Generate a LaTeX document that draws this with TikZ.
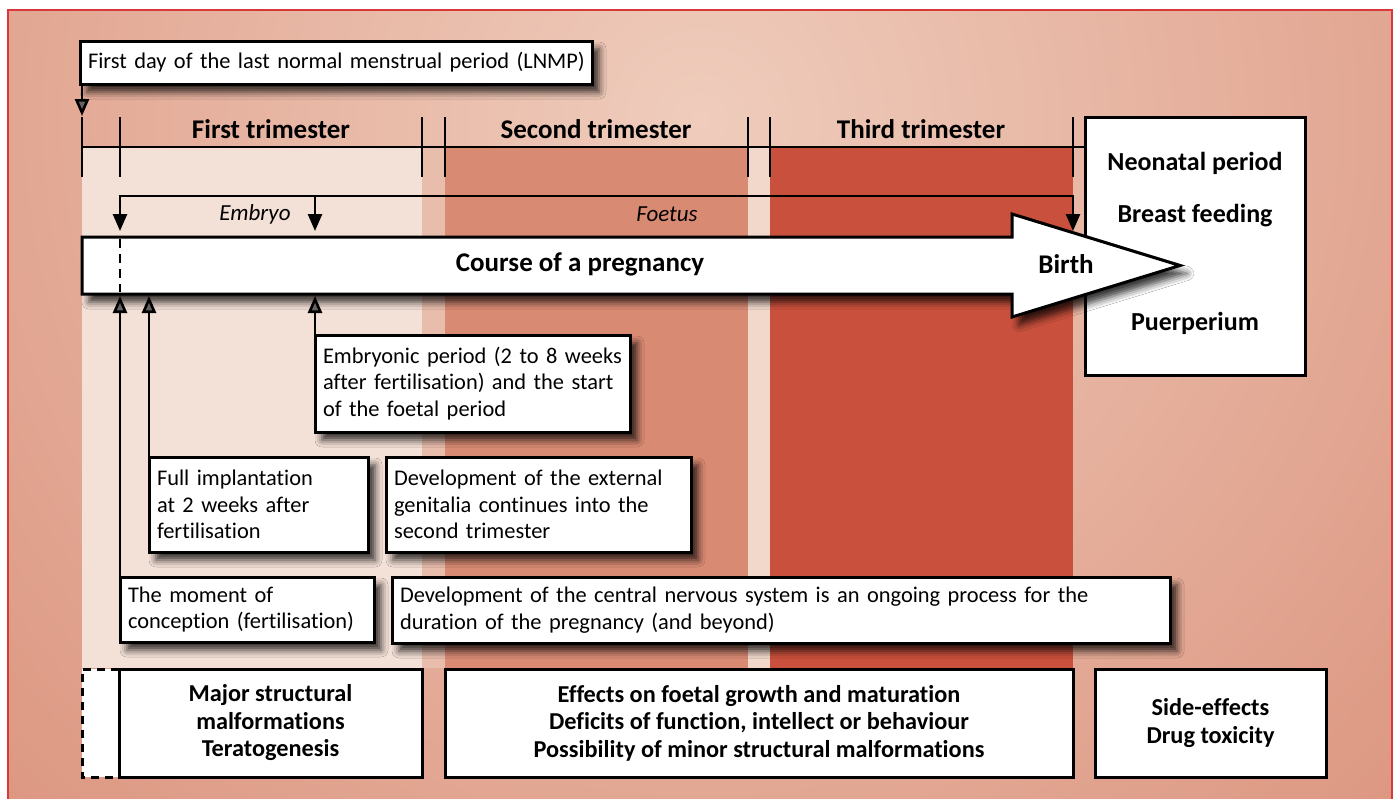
\documentclass[tikz,border=0pt]{standalone}
\usepackage{fontspec}
\setmainfont{Carlito}[Ligatures=NoCommon]
\usetikzlibrary{arrows.meta,shadows.blur}
\definecolor{bgin}{HTML}{EFCCBC}
\definecolor{bgout}{HTML}{DC9680}
\definecolor{framered}{HTML}{D8383A}
\definecolor{bandA}{HTML}{F3E0D6}
\definecolor{gapA}{HTML}{E8BDAC}
\definecolor{bandB}{HTML}{D98A73}
\definecolor{gapB}{HTML}{F1D8CB}
\definecolor{bandC}{HTML}{C9503C}
\newcommand\fsreg{\fontsize{22.4}{26.5}\selectfont}
\newcommand\fsbold{\fontsize{24.3}{27.5}\selectfont\bfseries}
\newcommand\fsneo{\fontsize{26}{28}\selectfont\bfseries}
\newcommand\fsbig{\fontsize{27}{30}\selectfont\bfseries}
\newcommand\fsit{\fontsize{23}{27}\selectfont\itshape}
\begin{document}
\begin{tikzpicture}[x=1pt,y=-1pt,
  tick/.style={line width=2.8pt},
  arr/.style={line width=2.6pt,-{Triangle[length=17pt,width=14pt]}},
  shadowed/.style={blur shadow={shadow xshift=7pt,shadow yshift=-8pt,shadow blur radius=7pt,shadow opacity=78}},
  infobox/.style={draw,line width=3pt,fill=white,anchor=north west,outer sep=0pt,
    align=left,inner xsep=8pt,inner ysep=2pt,font=\fsreg,shadowed},
  plainbox/.style={draw,line width=3pt,fill=white,anchor=north west,outer sep=0pt,
    align=center,inner sep=0pt,font=\fsbold},
  lbl/.style={inner sep=0pt}]
\useasboundingbox (0,0) rectangle (1396,798);
\fill[white] (0,0) rectangle (1396,798);
\begin{scope}
  \clip (8,10) rectangle (1392,810);
  \fill[bgout] (8,10) rectangle (1392,810);
  \shade[inner color=bgin,outer color=bgout] (700,120) circle (1000pt);
\end{scope}
\draw[framered,line width=1.5pt] (8,810) -- (8,10) -- (1392,10) -- (1392,810);
% bands
\fill[bandA] (82,147) rectangle (422,668);
\fill[gapA] (422,147) rectangle (445,668);
\fill[bandB] (445,147) rectangle (748,668);
\fill[gapB] (748,147) rectangle (770,668);
\fill[bandC] (770,147) rectangle (1073,668);
% neonatal box
\node[plainbox,minimum width=220pt,minimum height=258pt] (neo) at (1085,117) {};
\node[lbl,font=\fsneo] (neo1) at (1195,163) {Neonatal period};
\node[lbl,font=\fsneo] (neo2) at (1195,216) {Breast feeding};
\node[lbl,font=\fsneo] (neo3) at (1195,323) {Puerperium};
% ticks and timeline
\foreach \x in {82,120,422,445,748,770,1073}
  \draw[tick] (\x,117) -- (\x,177);
\coordinate (t0) at (82,117);
\draw[tick] (82,147) -- (neo.west |- 0,147);
\node[lbl,font=\fsbig] (tri1) at (271,129) {First trimester};
\node[lbl,font=\fsbig] (tri2) at (596,129) {Second trimester};
\node[lbl,font=\fsbig] (tri3) at (921,129) {Third trimester};
% embryo / foetus bracket
\coordinate (br1) at (120,196);
\coordinate (br3) at (1073,196);
\coordinate (e1) at (120,231);
\coordinate (e2) at (315,231);
\coordinate (e3) at (1073,231);
\draw[line width=2.6pt,{Triangle[length=17pt,width=14pt]}-{Triangle[length=17pt,width=14pt]}] (e1) -- (br1) -- (br3) -- (e3);
\draw[arr] (315,196) -- (e2);
\node[lbl,font=\fsit] (embryo) at (255,214) {Embryo};
\node[lbl,font=\fsit] (foetus) at (667,214) {Foetus};
% main arrow
\node[inner sep=0pt,outer sep=0pt,minimum width=930pt,minimum height=57pt,anchor=north west] (body) at (82,237) {};
\draw[line width=3pt,fill=white,shadowed] (body.north west) -- (body.north east) -- (1012,214) -- (1180,265.5) -- (1012,317) -- (body.south east) -- (body.south west) -- cycle;
\draw[line width=2.6pt,dash pattern=on 9pt off 6pt] (120,239) -- (120,292);
\node[lbl,font=\fsbig] (course) at (580,264) {Course of a pregnancy};
\node[lbl,font=\fsbig] (birth) at (1066,264) {Birth};
% LNMP
\node[infobox,minimum height=43pt,text width=496pt] (lnmp) at (80,41) {\mbox{First day of the last normal menstrual period (LNMP)}};
\draw[arr,shorten >=1pt] ([xshift=2pt]lnmp.south west) -- (t0);
% info boxes
\node[infobox,minimum height=97pt,text width=299pt] (emb) at (315,335)
  {\mbox{Embryonic period (2 to 8 weeks}\\\mbox{after fertilisation) and the start}\\\mbox{of the foetal period}};
\node[infobox,minimum height=95pt,text width=203pt] (impl) at (149,457)
  {\mbox{Full implantation}\\\mbox{at 2 weeks after}\\\mbox{fertilisation}};
\node[infobox,minimum height=95pt,text width=289pt] (gen) at (386,457)
  {\mbox{Development of the external}\\\mbox{genitalia continues into the}\\\mbox{second trimester}};
\node[infobox,minimum height=65pt,text width=238pt] (conc) at (120,577)
  {\mbox{The moment of}\\\mbox{conception (fertilisation)}};
\node[infobox,minimum height=66pt,text width=762pt] (cns) at (392,577)
  {\mbox{Development of the central nervous system is an ongoing process for the}\\\mbox{duration of the pregnancy (and beyond)}};
% connectors up to the arrow
\draw[arr,shorten >=2pt] (conc.north west) -- (conc.north west |- body.south);
\draw[arr,shorten >=2pt] (impl.north west) -- (impl.north west |- body.south);
\draw[arr,shorten >=2pt] (emb.north west) -- (emb.north west |- body.south);
% bottom boxes
\draw[line width=3pt,dash pattern=on 8pt off 6pt,fill=white] (119,669) -- (82,669) -- (82,777) -- (119,777);
\node[plainbox,minimum width=303pt,minimum height=108pt] (b1) at (119,669)
  {Major structural\\malformations\\Teratogenesis};
\node[plainbox,minimum width=628pt,minimum height=108pt] (b2) at (445,669)
  {Effects on foetal growth and maturation\\Deficits of function, intellect or behaviour\\Possibility of minor structural malformations};
\node[plainbox,minimum width=231pt,minimum height=108pt] (b3) at (1095,669)
  {Side-effects\\Drug toxicity};
\end{tikzpicture}
\end{document}
